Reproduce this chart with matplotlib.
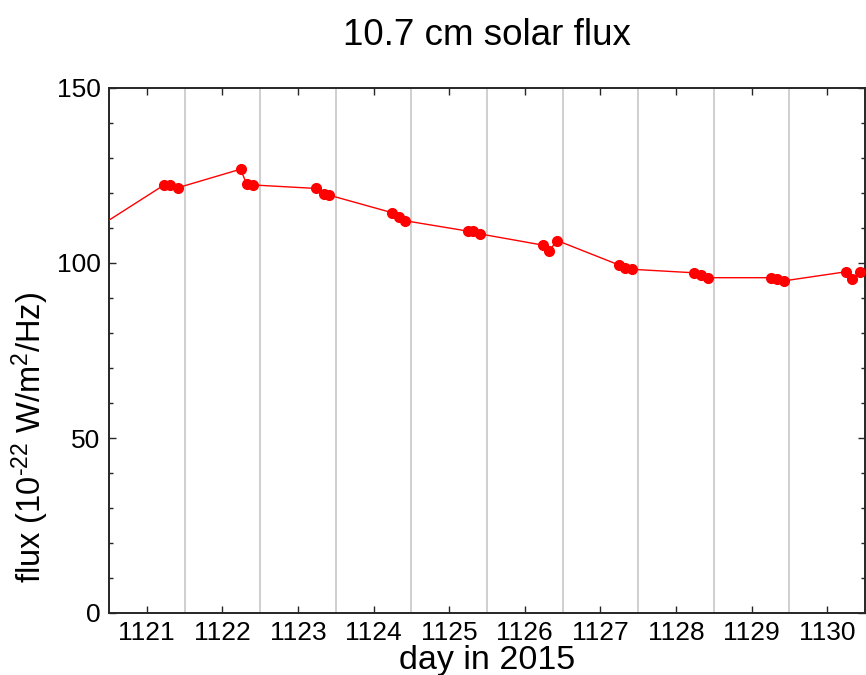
import matplotlib
matplotlib.use("Agg")
import matplotlib.pyplot as plt
from matplotlib.ticker import MultipleLocator, FixedLocator

plt.rcParams['font.family'] = ['Liberation Sans', 'DejaVu Sans']
plt.rcParams['mathtext.fontset'] = 'custom'
plt.rcParams['mathtext.rm'] = 'Liberation Sans'
plt.rcParams['mathtext.it'] = 'Liberation Sans:italic'
plt.rcParams['mathtext.bf'] = 'Liberation Sans:bold'

# measurement times (day of 2015) and flux values (10^-22 W/m^2/Hz)
days = [1120.41,
        1121.23, 1121.31, 1121.41,
        1122.24, 1122.32, 1122.40,
        1123.24, 1123.35, 1123.41,
        1124.24, 1124.33, 1124.41,
        1125.25, 1125.32, 1125.41,
        1126.24, 1126.32, 1126.43,
        1127.25, 1127.33, 1127.42,
        1128.24, 1128.33, 1128.42,
        1129.26, 1129.33, 1129.43,
        1130.25, 1130.33, 1130.43]
flux = [111.0,
        122.3, 122.3, 121.5,
        126.8, 122.6, 122.3,
        121.3, 119.6, 119.4,
        114.4, 113.0, 112.1,
        109.1, 109.1, 108.3,
        105.1, 103.5, 106.4,
        99.4, 98.7, 98.2,
        97.2, 96.6, 95.8,
        95.8, 95.3, 94.9,
        97.5, 95.3, 97.5]

xticks = [1121, 1122, 1123, 1124, 1125, 1126, 1127, 1128, 1129, 1130]
yticks = [0, 50, 100, 150]

fig = plt.figure(figsize=(8.66, 6.75), dpi=100)
ax = fig.add_axes([109/866, 1-613/675, (865-109)/866, (613-88)/675])

ax.plot(days, flux, color='red', linewidth=1.0, marker='o', markersize=7,
        markerfacecolor='red', markeredgecolor='red', zorder=3, clip_on=True)

ax.set_xlim(1120.5, 1130.5)
ax.set_ylim(0, 150)
ax.set_xticks(xticks)
ax.set_xticklabels([str(t) for t in xticks])
ax.set_yticks(yticks)
ax.yaxis.set_minor_locator(MultipleLocator(10))
ax.xaxis.set_minor_locator(FixedLocator([t + 0.5 for t in xticks[:-1]]))
ax.grid(True, which='minor', axis='x', color='#cccccc', linewidth=1.3)
ax.set_axisbelow(True)

ax.tick_params(axis='both', which='major', direction='in', length=5, width=1.0,
               labelsize=19, colors='#262626', labelcolor='black',
               top=True, right=True, pad=6)
ax.tick_params(axis='y', which='minor', direction='in', length=3, width=1.0,
               left=True, right=True, colors='#262626')
ax.tick_params(axis='x', which='minor', length=0, top=False, bottom=False)

for s in ax.spines.values():
    s.set_linewidth(1.4)
    s.set_color('#262626')

ax.set_title('10.7 cm solar flux', fontsize=26.5, pad=31)
ax.set_xlabel('day in 2015', fontsize=24.5, labelpad=0)
ax.set_ylabel(r'flux (10$^{\text{-}22}$ W/m$^2$/Hz)', fontsize=23.5, labelpad=1)
ax.yaxis.set_label_coords(-0.077, 0.335)

fig.savefig('out.png', dpi=100)
